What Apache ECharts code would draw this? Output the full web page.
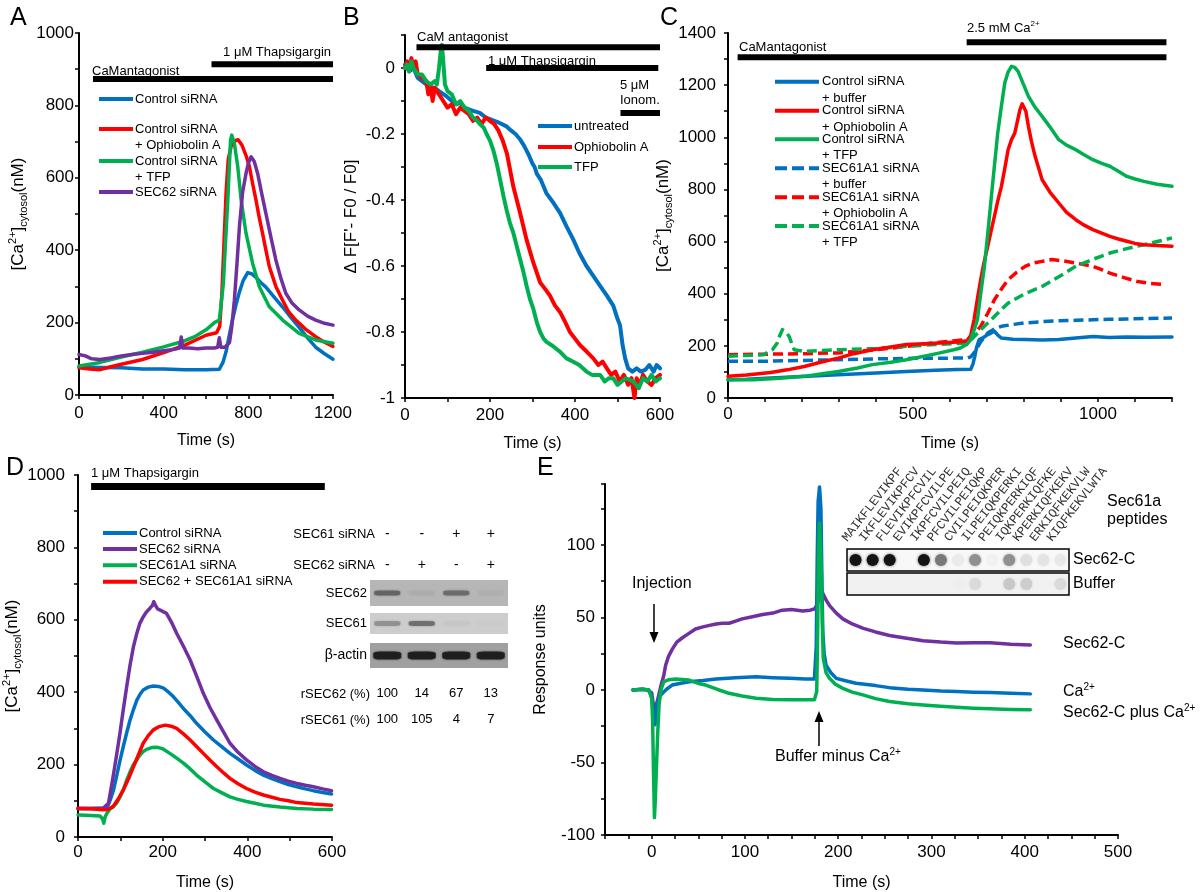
<!DOCTYPE html>
<html><head><meta charset="utf-8">
<script src="https://cdn.jsdelivr.net/npm/echarts@6/dist/echarts.min.js"></script>
<style>html,body{margin:0;padding:0;background:#fff}#c{width:1200px;height:892px}</style>
</head><body><div id="c"></div><script>
const FONT = "'Liberation Sans', Arial, Helvetica, sans-serif";
const MONO = "'Liberation Mono', 'DejaVu Sans Mono', monospace";
const BLUE = '#0070C0', RED = '#FF0000', GREEN = '#00B050', PURPLE = '#7030A0';

// ---------- Panel A ----------
const A_control = [[0,78],[100,76],[200,75],[300,72],[400,72],[500,70],[600,70],[663,71],[680,90],[695,120],[710,165],[726,210],[742,250],[758,285],[775,315],[797,338],[815,335],[836,325],[860,310],[883,298],[920,272],[962,243],[1000,215],[1040,187],[1080,158],[1118,132],[1160,114],[1200,99]];
const A_ophio = [[0,75],[50,72],[100,70],[150,78],[200,85],[300,98],[400,117],[500,138],[600,165],[650,172],[665,190],[675,280],[685,420],[695,560],[705,650],[720,690],[740,703],[752,705],[770,690],[790,660],[805,631],[820,585],[836,539],[850,495],[867,447],[883,400],[899,355],[930,300],[962,262],[990,230],[1024,207],[1070,182],[1118,161],[1160,146],[1200,134]];
const A_tfp = [[0,80],[100,90],[200,105],[300,118],[400,133],[500,150],[550,162],[600,180],[640,200],[663,207],[682,308],[703,539],[716,705],[722,718],[734,695],[750,631],[766,539],[789,447],[820,364],[852,299],[899,244],[962,207],[1040,170],[1118,152],[1200,143]];
const A_sec62 = [[0,112],[30,108],[60,100],[100,98],[150,102],[200,108],[250,112],[300,115],[350,118],[400,122],[450,126],[475,130],[483,160],[490,130],[520,130],[560,128],[600,130],[640,130],[655,132],[663,158],[670,132],[690,132],[711,145],[722,190],[734,262],[746,360],[758,465],[773,560],[789,612],[800,640],[813,658],[828,645],[844,612],[862,560],[883,502],[905,440],[930,373],[955,320],[977,281],[1005,255],[1040,235],[1080,218],[1118,207],[1160,198],[1200,193]];
const A_treat = [{label:'CaMantagonist', from:66, to:1200, level:873}, {label:'1 μM Thapsigargin', from:626, to:1200, level:914}];

// ---------- Panel B ----------
const B_untreated = [[0,0.01],[10,-0.01],[20,0.0],[30,-0.03],[40,-0.04],[50,-0.05],[60,-0.06],[70,-0.06],[80,-0.07],[98,-0.086],[110,-0.1],[120,-0.11],[130,-0.105],[140,-0.12],[150,-0.125],[160,-0.13],[176,-0.136],[190,-0.15],[200,-0.155],[210,-0.16],[220,-0.165],[239,-0.177],[250,-0.19],[260,-0.2],[270,-0.215],[280,-0.235],[290,-0.26],[300,-0.29],[305,-0.3],[310,-0.32],[320,-0.34],[333,-0.38],[350,-0.41],[365,-0.44],[380,-0.48],[396,-0.52],[410,-0.56],[427,-0.6],[443,-0.63],[459,-0.66],[475,-0.69],[490,-0.72],[500,-0.76],[506,-0.78],[512,-0.84],[518,-0.88],[525,-0.91],[535,-0.92],[545,-0.91],[555,-0.92],[565,-0.915],[575,-0.9],[585,-0.92],[592,-0.9],[600,-0.91]];
const B_ophio = [[0,0.0],[5,0.02],[10,-0.01],[15,0.03],[20,0.0],[25,0.02],[30,-0.02],[40,-0.03],[50,-0.04],[55,-0.08],[60,-0.05],[65,-0.1],[70,-0.06],[80,-0.08],[90,-0.1],[100,-0.12],[110,-0.11],[120,-0.14],[130,-0.12],[140,-0.13],[150,-0.14],[160,-0.16],[170,-0.15],[180,-0.17],[190,-0.15],[200,-0.16],[210,-0.17],[220,-0.19],[230,-0.22],[240,-0.26],[255,-0.36],[271,-0.44],[286,-0.52],[302,-0.59],[318,-0.65],[330,-0.67],[341,-0.69],[353,-0.72],[365,-0.74],[377,-0.77],[388,-0.8],[400,-0.82],[412,-0.84],[428,-0.86],[443,-0.88],[455,-0.9],[465,-0.89],[475,-0.91],[485,-0.93],[495,-0.92],[505,-0.95],[515,-0.93],[525,-0.96],[533,-0.94],[540,-1.0],[545,-0.94],[552,-0.96],[560,-0.93],[570,-0.95],[580,-0.96],[590,-0.94],[600,-0.93]];
const B_tfp = [[0,0.0],[5,0.01],[10,-0.01],[15,0.02],[20,0.0],[30,-0.02],[40,-0.02],[50,-0.04],[60,-0.05],[70,-0.04],[75,-0.05],[80,0.0],[84,0.05],[87,0.07],[90,0.02],[94,-0.05],[100,-0.07],[110,-0.08],[120,-0.11],[130,-0.1],[140,-0.12],[150,-0.13],[160,-0.15],[170,-0.16],[176,-0.17],[185,-0.18],[192,-0.2],[200,-0.22],[208,-0.25],[216,-0.29],[224,-0.34],[232,-0.39],[239,-0.43],[247,-0.47],[255,-0.5],[263,-0.54],[271,-0.58],[279,-0.62],[286,-0.66],[294,-0.7],[302,-0.73],[310,-0.77],[318,-0.8],[326,-0.82],[333,-0.83],[345,-0.84],[355,-0.85],[365,-0.86],[380,-0.88],[396,-0.89],[410,-0.9],[427,-0.92],[440,-0.93],[459,-0.93],[470,-0.95],[480,-0.94],[490,-0.94],[500,-0.96],[510,-0.95],[520,-0.94],[537,-0.95],[550,-0.97],[560,-0.94],[570,-0.95],[580,-0.93],[590,-0.95],[600,-0.94]];
const B_treat = [{label:'CaM antagonist', from:27, to:600, level:0.063}, {label:'1 μM Thapsigargin', from:191, to:596, level:0.0}, {label:'5 μM Ionom.', from:507, to:600, level:-0.136}];

// ---------- Panel C ----------
const C_ctrlBuffer = [[0,70],[50,72],[115,77],[200,82],[298,89],[400,96],[482,102],[560,106],[619,109],[656,110],[662,130],[667,160],[672,195],[679,224],[690,232],[702,243],[712,250],[720,256],[730,240],[739,230],[770,225],[803,224],[850,222],[894,224],[940,230],[986,236],[1030,232],[1078,234],[1130,233],[1200,234]];
const C_ctrlOphio = [[0,83],[50,88],[115,98],[160,108],[206,121],[250,137],[298,153],[340,170],[390,185],[440,196],[482,205],[530,208],[573,211],[620,215],[647,220],[656,240],[665,300],[674,380],[683,454],[692,520],[702,582],[711,640],[720,697],[729,755],[739,812],[748,880],[757,952],[766,990],[775,1016],[782,1060],[789,1106],[795,1128],[799,1135],[805,1100],[812,1042],[820,985],[830,927],[840,880],[849,837],[870,790],[894,748],[915,712],[940,684],[960,665],[986,646],[1010,632],[1032,620],[1055,610],[1078,601],[1100,593],[1124,588],[1160,585],[1200,582]];
const C_ctrlTFP = [[0,70],[69,70],[140,76],[206,83],[250,92],[298,102],[350,115],[390,128],[440,137],[482,147],[530,160],[573,173],[610,185],[628,192],[645,205],[656,224],[665,260],[674,300],[683,400],[693,505],[702,630],[711,761],[720,890],[729,1016],[738,1110],[748,1208],[757,1250],[766,1272],[775,1268],[784,1253],[798,1205],[812,1157],[830,1115],[849,1080],[870,1040],[894,991],[915,970],[940,952],[960,935],[986,914],[1010,900],[1032,889],[1055,870],[1078,850],[1100,840],[1124,831],[1160,820],[1200,812]];
const C_secBuffer = [[0,141],[100,141],[200,144],[298,147],[400,150],[500,152],[600,153],[647,153],[656,158],[665,173],[683,215],[702,249],[720,265],[739,275],[770,282],[803,288],[850,293],[894,296],[940,298],[986,300],[1030,302],[1078,303],[1130,305],[1200,307]];
const C_secOphio = [[0,166],[100,168],[200,170],[298,173],[400,185],[482,198],[560,212],[647,224],[665,245],[683,275],[702,325],[720,377],[739,418],[757,454],[780,482],[803,505],[826,518],[849,524],[876,531],[905,526],[940,518],[986,505],[1010,492],[1032,479],[1070,462],[1106,447],[1140,440],[1183,435]];
const C_secTFP = [[0,160],[96,166],[120,185],[133,211],[140,240],[147,262],[155,255],[165,237],[172,210],[179,185],[206,179],[298,185],[400,190],[482,198],[560,205],[647,211],[665,235],[683,262],[702,288],[720,313],[739,340],[757,364],[800,398],[849,428],[894,465],[940,505],[986,532],[1032,556],[1078,573],[1124,588],[1160,600],[1200,614]];
const C_treat = [{label:'CaMantagonist', from:26, to:1185, level:1307}, {label:'2.5 mM Ca2+', from:645, to:1185, level:1365}];

// ---------- Panel D ----------
const D_control = [[0,79],[30,79],[60,79],[70,85],[76,102],[84,130],[91,167],[99,210],[107,250],[115,288],[123,323],[131,352],[139,378],[147,395],[154,406],[166,414],[178,417],[190,416],[202,411],[214,400],[225,388],[237,372],[249,355],[265,335],[280,314],[300,290],[320,268],[340,249],[359,231],[380,214],[398,199],[418,184],[438,171],[458,161],[477,153],[497,145],[517,139],[537,133],[556,128],[578,123],[599,119]];
const D_sec62 = [[0,79],[30,79],[60,80],[72,93],[83,167],[91,225],[99,286],[107,352],[115,415],[123,475],[131,526],[139,563],[146,590],[154,608],[162,622],[170,632],[176,640],[179,650],[183,640],[188,630],[194,627],[202,622],[209,618],[220,595],[233,563],[249,527],[265,489],[280,445],[296,397],[312,357],[328,323],[344,290],[359,259],[378,234],[398,213],[418,195],[438,180],[458,170],[477,162],[497,154],[517,148],[537,143],[556,139],[578,133],[599,128]];
const D_sec61a1 = [[0,61],[20,60],[40,59],[52,58],[58,50],[61,38],[64,55],[68,65],[76,78],[84,85],[91,93],[99,110],[107,130],[115,157],[123,180],[131,200],[139,213],[146,226],[154,236],[162,242],[174,247],[186,248],[200,244],[217,231],[233,218],[249,204],[265,188],[280,171],[300,152],[320,134],[340,122],[359,111],[378,104],[398,98],[418,93],[438,88],[477,83],[517,79],[556,77],[599,76]];
const D_both = [[0,79],[30,78],[60,75],[70,76],[83,84],[95,105],[107,130],[119,160],[131,194],[143,228],[154,259],[166,280],[178,296],[192,305],[206,309],[220,306],[233,300],[249,285],[265,268],[280,250],[296,231],[312,212],[328,194],[344,177],[359,162],[378,147],[398,134],[418,124],[438,116],[458,110],[477,104],[497,100],[517,95],[556,91],[599,88]];
const D_treat = [{label:'1 μM Thapsigargin', from:31, to:583, level:968}];
// western blot
const lanes = ['1','2','3','4'];
const sec61siRNA = ['-','-','+','+'];
const sec62siRNA = ['-','+','-','+'];
const bandSEC62 = [0.55, 0.07, 0.5, 0.05];
const bandSEC61 = [0.35, 0.55, 0.04, 0.02];
const bandActin = [1, 1, 1, 1];
const rSEC62 = [100, 14, 67, 13];
const rSEC61 = [100, 105, 4, 7];

// ---------- Panel E ----------
const E_sec62c = [[-20,0],[-10,0.5],[-5,0],[0,-2],[3,-15],[6,-8],[10,3],[13,10],[15,17],[18,23],[22,28],[27,33],[33,36],[40,39],[47,42],[55,43.5],[62,44.5],[69,45.5],[76,46],[83,46],[90,47.5],[97,49],[108,50.5],[119,52],[130,53],[140,55],[150,55.5],[162,54.5],[170,55],[175,56],[178,60],[181,70],[184,66],[187,62],[191,58],[198,53],[205,49],[215,45.5],[227,42.5],[240,40],[255,37.5],[270,36],[291,34],[310,33],[327,32.4],[345,32.5],[363,32.5],[385,31.5],[406,31]];
const E_ca = [[-20,0],[-10,0.5],[-3,0],[0,-5],[2,-15],[3.6,-24],[5,-16],[6,-10],[8,-5],[11.5,-2.3],[16,0.5],[22,3.4],[30,4.5],[40,5.7],[55,6.5],[69,7.5],[90,8.5],[112,9.1],[130,8.5],[148,8],[165,7.5],[174.5,7.5],[176.5,30],[177.5,90],[178.5,130],[180,140],[181.5,125],[182.5,80],[183.5,40],[185,25],[187,17],[192,12],[198,8],[210,6],[219,4.6],[240,3],[255,1.6],[275,0.5],[291,0],[310,-0.8],[327,-1.1],[345,-1.5],[363,-1.8],[385,-2.3],[406,-2.7]];
const E_both = [[-20,0],[-10,0.5],[-3,0],[0,-5.7],[1,-20],[2,-56],[3,-88],[4,-75],[5,-56],[6.5,-30],[8,-10],[10,0],[13,5.7],[18,7],[26,7.5],[33,7.2],[40,6.8],[50,4.5],[58,3.4],[70,0.5],[83,-2.3],[97,-4.2],[112,-5.7],[130,-6.5],[148,-6.8],[165,-6.8],[174.5,-6.8],[177,-1.1],[178,40],[179,95],[180,115],[181,100],[182,81],[183,45],[184,21.7],[187,12],[190.7,8],[197,4],[205,1.1],[215,-1.5],[226.5,-3.4],[240,-6],[255,-8],[275,-9.5],[291,-10.3],[310,-11.3],[327,-12],[345,-12.6],[363,-13],[385,-13.5],[406,-13.7]];
const peptides = ['MAIKFLEVIKPF','IKFLEVIKPFCV','FLEVIKPFCVIL','EVIKPFCVILPE','IKPFCVILPEIQ','PFCVILPEIQKP','CVILPEIQKPER','ILPEIQKPERKI','PEIQKPERKIQF','IQKPERKIQFKE','KPERKIQFKEKV','ERKIQFKEKVLW','KIQFKEKVLWTA'];
const dotSec62C = [1, 1, 1, 0, 1, 0.55, 0.05, 0.45, 0.02, 0.45, 0.1, 0.08, 0.06];
const dotBuffer = [0, 0, 0, 0, 0, 0, 0.03, 0.12, 0, 0.2, 0.18, 0, 0.12];

// ---------- helpers ----------
const chart = echarts.init(document.getElementById('c'), null, {renderer: 'canvas'});
const caRich = {
  b: {fontSize: 17, fontFamily: FONT, color: '#000', lineHeight: 22},
  s: {fontSize: 11, fontFamily: FONT, color: '#000', lineHeight: 12, verticalAlign: 'top'},
  u: {fontSize: 11, fontFamily: FONT, color: '#000', lineHeight: 12, verticalAlign: 'bottom'}
};
const caName = '{b|[Ca}{s|2+}{b|]}{u|cytosol}{b|(nM)}';

function xVal(grid, min, max, step, every, margin, gap) {
  return {type: 'value', gridIndex: grid, min, max, interval: step,
    name: 'Time (s)', nameLocation: 'middle', nameGap: gap,
    nameTextStyle: {fontFamily: FONT, fontSize: 16, color: '#000'},
    axisLine: {onZero: false, lineStyle: {color: '#000', width: 2}},
    axisTick: {length: 4, lineStyle: {color: '#000', width: 1.5}},
    axisLabel: {margin, fontFamily: FONT, fontSize: 17, color: '#000',
      formatter: v => (Math.abs(Math.round(v) % every) === 0 ? String(Math.round(v)) : '')},
    splitLine: {show: false}};
}
function yVal(grid, min, max, step, fmt, margin, name, gap, nts) {
  return {type: 'value', gridIndex: grid, min, max, interval: step,
    name, nameLocation: 'middle', nameGap: gap, nameRotate: 90, nameTextStyle: nts,
    axisLine: {onZero: false, lineStyle: {color: '#000', width: 2}},
    axisTick: {length: 4, lineStyle: {color: '#000', width: 1.5}},
    axisLabel: {margin, fontFamily: FONT, fontSize: 17, color: '#000', formatter: fmt, showMaxLabel: true},
    splitLine: {show: false}};
}
const every = n => v => (Math.abs(Math.round(v) % n) === 0 ? String(Math.round(v)) : '');
function ls(name, data, ai, color, width, dash, z) {
  return {type: 'line', name, data, xAxisIndex: ai, yAxisIndex: ai, showSymbol: false, symbol: 'none',
    animation: false, silent: true, z: z || 2,
    lineStyle: {color, width, type: dash || 'solid', cap: dash ? 'butt' : 'round', join: 'round'}};
}
function treat(t, ai, w) {
  return {type: 'line', data: [[t.from, t.level], [t.to, t.level]], xAxisIndex: ai, yAxisIndex: ai,
    symbol: 'none', showSymbol: false, animation: false, silent: true, z: 3,
    lineStyle: {color: '#000', width: w, cap: 'butt'}};
}
function gray(bg, i) { const c = Math.round(bg - i * (bg - 20)); return 'rgb(' + c + ',' + c + ',' + c + ')'; }
function bands(vals, ai, yi, bg, size) {
  return {type: 'scatter', xAxisIndex: ai, yAxisIndex: yi, symbol: 'roundRect', symbolSize: size, animation: false, silent: true,
    data: vals.map((v, i) => ({value: [i, 0], itemStyle: {color: gray(bg, v), shadowBlur: 2, shadowColor: gray(bg, v * 0.8)}}))};
}
function dots(vals, ai, yi) {
  return {type: 'scatter', xAxisIndex: ai, yAxisIndex: yi, symbol: 'circle', symbolSize: 12, animation: false, silent: true,
    data: vals.map((v, i) => ({value: [i, 0], itemStyle: {color: gray(245, v), opacity: v > 0 ? 1 : 0, shadowBlur: 3, shadowColor: gray(245, v * 0.7)}}))};
}
function T(text, x, y, size, align, rich) {
  const st = {text, x, y, fill: '#000', font: size + 'px ' + FONT, align: align || 'left', verticalAlign: 'middle',
    textAlign: align || 'left', textVerticalAlign: 'middle'};
  if (rich) st.rich = rich;
  return {type: 'text', silent: true, z: 20, style: st};
}
function L(x1, y1, x2, y2, color, w, dash) {
  return {type: 'line', silent: true, z: 20, shape: {x1, y1, x2, y2}, style: {stroke: color, lineWidth: w, lineDash: dash || null}};
}
function P(points) { return {type: 'polygon', silent: true, z: 20, shape: {points}, style: {fill: '#000'}}; }
const supRich = size => ({b: {fontSize: size, fontFamily: FONT, color: '#000', lineHeight: size + 3}, s: {fontSize: Math.round(size * 0.62), fontFamily: FONT, color: '#000', lineHeight: Math.round(size * 0.62) + 1, verticalAlign: 'top'}});
const hiddenCat = (grid, data, extra) => Object.assign({type: 'category', gridIndex: grid, data,
  axisLine: {show: false}, axisTick: {show: false}, axisLabel: {show: false}, splitLine: {show: false}}, extra || {});

// ---------- axes ----------
const xAxes = [
  xVal(0, 0, 1200, 100, 400, 9.5, 38),
  xVal(1, 0, 600, 100, 200, 9, 38),
  xVal(2, 0, 1200, 100, 500, 7.5, 38),
  xVal(3, 0, 600, 100, 200, 6.5, 38),
  xVal(4, -50, 500, 25, 100, 8.5, 40),
  hiddenCat(5, lanes, {position: 'top', axisLabel: {show: true, margin: 8, fontFamily: FONT, fontSize: 14, color: '#000', formatter: (v, i) => sec62siRNA[i]}}),
  hiddenCat(5, lanes, {position: 'top', offset: 31, axisLabel: {show: true, margin: 8, fontFamily: FONT, fontSize: 14, color: '#000', formatter: (v, i) => sec61siRNA[i]}}),
  hiddenCat(6, lanes),
  hiddenCat(7, lanes, {position: 'bottom', axisLabel: {show: true, margin: 19, fontFamily: FONT, fontSize: 13, color: '#000', formatter: (v, i) => String(rSEC62[i])}}),
  hiddenCat(7, lanes, {position: 'bottom', offset: 26, axisLabel: {show: true, margin: 19, fontFamily: FONT, fontSize: 13, color: '#000', formatter: (v, i) => String(rSEC61[i])}}),
  hiddenCat(8, peptides),
  hiddenCat(9, peptides)
];
const bFmt = v => { const k = Math.round(v * 10); if (k > 0 || k % 2 !== 0) return ''; if (k === 0) return '0'; if (k === -10) return '-1'; return (k / 10).toFixed(1); };
const yAxes = [
  yVal(0, 0, 1000, 100, every(200), 5, caName, 50, {rich: caRich}),
  yVal(1, -1, 0.1, 0.1, bFmt, 10, "Δ F[F'- F0 / F0]", 45, {fontFamily: FONT, fontSize: 17, color: '#000'}),
  yVal(2, 0, 1400, 100, every(200), 12, caName, 47, {rich: caRich}),
  yVal(3, 0, 1000, 100, every(200), 13, caName, 49, {rich: caRich}),
  yVal(4, -100, 142, 25, every(50), 10, 'Response units', 56, {fontFamily: FONT, fontSize: 16, color: '#000'}),
  hiddenCat(5, ['SEC62'], {axisLabel: {show: true, margin: 3, fontFamily: FONT, fontSize: 13, color: '#000'}}),
  hiddenCat(6, ['SEC61'], {axisLabel: {show: true, margin: 3, fontFamily: FONT, fontSize: 13, color: '#000'}}),
  hiddenCat(7, ['β-actin'], {axisLabel: {show: true, margin: 3, fontFamily: FONT, fontSize: 14, color: '#000'}}),
  hiddenCat(8, ['Sec62-C'], {position: 'right', axisLabel: {show: true, margin: 4, fontFamily: FONT, fontSize: 16, color: '#000'}}),
  hiddenCat(9, ['Buffer'], {position: 'right', axisLabel: {show: true, margin: 4, fontFamily: FONT, fontSize: 16, color: '#000'}})
];

const grids = [
  {left: 79, top: 33, width: 254, height: 362},
  {left: 405, top: 35, width: 255, height: 363},
  {left: 728, top: 33, width: 444, height: 365},
  {left: 78, top: 475, width: 254, height: 362},
  {left: 605, top: 484, width: 513, height: 351},
  {left: 370, top: 580, width: 138, height: 26, show: true, backgroundColor: '#b6b6b6', borderWidth: 0},
  {left: 370, top: 613, width: 138, height: 21, show: true, backgroundColor: '#cdcdcd', borderWidth: 0},
  {left: 370, top: 643, width: 138, height: 25, show: true, backgroundColor: '#a0a0a0', borderWidth: 0},
  {left: 847, top: 549, width: 222, height: 22, show: true, backgroundColor: '#f8f8f8', borderColor: '#000', borderWidth: 1.5},
  {left: 847, top: 573, width: 222, height: 22, show: true, backgroundColor: '#f1f1f1', borderColor: '#000', borderWidth: 1.5}
];

const series = [
  ls('Control siRNA', A_control, 0, BLUE, 3.5),
  ls('Control siRNA + Ophiobolin A', A_ophio, 0, RED, 3.5),
  ls('Control siRNA + TFP', A_tfp, 0, GREEN, 3.5),
  ls('SEC62 siRNA', A_sec62, 0, PURPLE, 3.5),
  ...A_treat.map(t => treat(t, 0, 6)),
  ls('untreated', B_untreated, 1, BLUE, 4),
  ls('Ophiobolin A', B_ophio, 1, RED, 4),
  ls('TFP', B_tfp, 1, GREEN, 4),
  ...B_treat.map(t => treat(t, 1, 6)),
  ls('SEC61A1 siRNA + buffer', C_secBuffer, 2, BLUE, 3.5, [10, 5]),
  ls('SEC61A1 siRNA + Ophiobolin A', C_secOphio, 2, RED, 3.5, [10, 5]),
  ls('SEC61A1 siRNA + TFP', C_secTFP, 2, GREEN, 3.5, [10, 5]),
  ls('Control siRNA + buffer', C_ctrlBuffer, 2, BLUE, 3.5),
  ls('Control siRNA + Ophiobolin A', C_ctrlOphio, 2, RED, 3.5),
  ls('Control siRNA + TFP', C_ctrlTFP, 2, GREEN, 3.5),
  ...C_treat.map(t => treat(t, 2, 6)),
  ls('Control siRNA', D_control, 3, BLUE, 3.5),
  ls('SEC62 siRNA', D_sec62, 3, PURPLE, 3.5),
  ls('SEC61A1 siRNA', D_sec61a1, 3, GREEN, 3.5),
  ls('SEC62 + SEC61A1 siRNA', D_both, 3, RED, 3.5),
  ...D_treat.map(t => treat(t, 3, 7)),
  ls('Sec62-C', E_sec62c, 4, PURPLE, 3.5),
  ls('Ca2+', E_ca, 4, BLUE, 3.5),
  ls('Sec62-C plus Ca2+', E_both, 4, GREEN, 3.5),
  bands(bandSEC62, 5, 5, 182, [26, 5]),
  bands(bandSEC61, 7, 6, 205, [26, 5]),
  bands(bandActin, 8, 7, 160, [28, 8]),
  dots(dotSec62C, 10, 8),
  dots(dotBuffer, 11, 9)
];

chart.setOption({
  animation: false,
  backgroundColor: '#fff',
  textStyle: {fontFamily: FONT},
  grid: grids,
  xAxis: xAxes,
  yAxis: yAxes,
  series
});

// ---------- annotations / legends ----------
const g = [];
[['A', 10, 18.5], ['B', 343, 18.5], ['C', 660, 18.5], ['D', 6, 468.5], ['E', 537, 468.5]].forEach(a => g.push(T(a[0], a[1], a[2], 25)));
// A
g.push(T('CaMantagonist', 92, 71, 13));
g.push(T('1 μM Thapsigargin', 331, 52, 13, 'right'));
[[BLUE, 99, ['Control siRNA']], [RED, 129, ['Control siRNA', '+ Ophiobolin A']], [GREEN, 161, ['Control siRNA', '+ TFP']], [PURPLE, 192, ['SEC62 siRNA']]].forEach(it => {
  g.push(L(99, it[1], 133, it[1], it[0], 4));
  it[2].forEach((s, k) => g.push(T(s, 135, it[1] + k * 16.5, 13)));
});
// B
g.push(T('CaM antagonist', 417, 37, 13));
g.push(T('1 μM Thapsigargin', 488, 61, 13));
g.push(T('5 μM', 620, 85, 13));
g.push(T('Ionom.', 620, 100, 13));
[[BLUE, 126, 'untreated'], [RED, 147, 'Ophiobolin A'], [GREEN, 167, 'TFP']].forEach(it => {
  g.push(L(538, it[1], 572, it[1], it[0], 4));
  g.push(T(it[2], 574, it[1], 13));
});
// C
g.push(T('CaMantagonist', 739, 47, 13));
g.push(T('{b|2.5 mM Ca}{s|2+}', 967, 28, 13, 'left', supRich(13)));
[[BLUE, 81.7, null, 'buffer'], [RED, 110.7, null, 'Ophiobolin A'], [GREEN, 139.3, null, 'TFP'],
 [BLUE, 168.3, [12, 5], 'buffer'], [RED, 197.3, [12, 5], 'Ophiobolin A'], [GREEN, 226, [12, 5], 'TFP']].forEach((it, k) => {
  g.push(L(775, it[1], 819, it[1], it[0], 4, it[2]));
  g.push(T(k < 3 ? 'Control siRNA' : 'SEC61A1 siRNA', 822, it[1], 13));
  g.push(T('+ ' + it[3], 822, it[1] + 16.3, 13));
});
// D
g.push(T('1 μM Thapsigargin', 91, 473, 13));
[[BLUE, 533, 'Control siRNA'], [PURPLE, 549, 'SEC62 siRNA'], [GREEN, 565.3, 'SEC61A1 siRNA'], [RED, 581.7, 'SEC62 + SEC61A1 siRNA']].forEach(it => {
  g.push(L(103, it[1], 137, it[1], it[0], 4));
  g.push(T(it[2], 139, it[1], 13));
});
g.push(T('SEC61 siRNA', 375, 534, 13, 'right'));
g.push(T('SEC62 siRNA', 375, 565, 13, 'right'));
g.push(T('rSEC62 (%)', 370, 694, 13, 'right'));
g.push(T('rSEC61 (%)', 370, 720, 13, 'right'));
// E
g.push(T('Injection', 632, 584, 16));
g.push(L(654, 604, 654, 634, '#000', 1.5));
g.push(P([[649.5, 632], [658.5, 632], [654, 643]]));
g.push(T('{b|Buffer minus Ca}{s|2+}', 775, 757, 16, 'left', supRich(16)));
g.push(L(819, 746, 819, 720, '#000', 1.5));
g.push(P([[814.5, 722], [823.5, 722], [819, 711]]));
g.push(T('Sec62-C', 1063, 644, 16));
g.push(T('{b|Ca}{s|2+}', 1063, 692, 16, 'left', supRich(16)));
g.push(T('{b|Sec62-C plus Ca}{s|2+}', 1063, 713, 16, 'left', supRich(16)));
g.push(T('Sec61a', 1107, 502, 16));
g.push(T('peptides', 1107, 520, 16));
// peptide labels: anchored to the dot-blot category axis, rotated up-right
const rot = 52 * Math.PI / 180;
peptides.forEach((p, i) => {
  const px = chart.convertToPixel({xAxisIndex: 10}, p);
  const gridTop = 549;
  g.push({type: 'text', silent: true, z: 20, x: px - 11, y: gridTop - 9, rotation: rot,
    style: {text: p, fill: '#333', font: '12.5px ' + MONO, align: 'left', verticalAlign: 'middle', textAlign: 'left', textVerticalAlign: 'middle'}});
});

chart.setOption({graphic: {elements: g}});
</script></body></html>
